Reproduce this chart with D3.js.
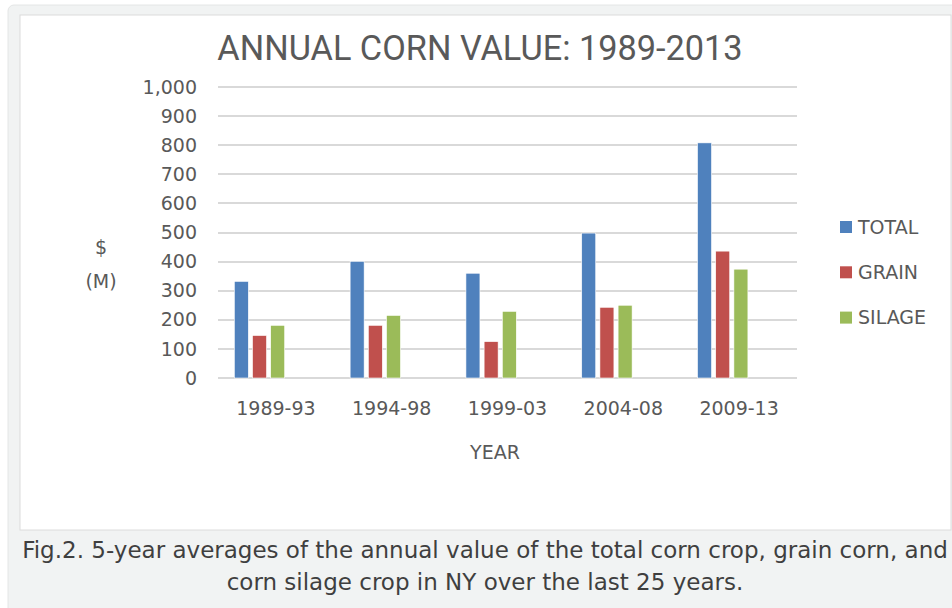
<!DOCTYPE html>
<html>
<head>
<meta charset="utf-8">
<title>Annual corn value 1989-2013</title>
<script src="https://cdn.jsdelivr.net/npm/d3@7"></script>
<style>
body { margin: 0; background: #fff; }
.grid line { stroke: #d9d9d9; stroke-width: 1.5; shape-rendering: crispEdges; }
.tick-label, .cat-label, .legend text, .axis-title {
  font: 19px "DejaVu Sans", sans-serif; fill: #595959;
}
.caption { font: 23px "DejaVu Sans", sans-serif; fill: #3f3f3f; }
</style>
</head>
<body>
<script>
var categories = ["1989-93", "1994-98", "1999-03", "2004-08", "2009-13"];
var seriesNames = ["TOTAL", "GRAIN", "SILAGE"];
var total  = [332, 401, 360, 498, 808];
var grain  = [146, 181, 125, 243, 436];
var silage = [181, 215, 229, 250, 374];
var yTicks = [0, 100, 200, 300, 400, 500, 600, 700, 800, 900, 1000];
var colors = ["#4f81bd", "#c0504d", "#9bbb59"];

var W = 952, H = 608;
var plot = {left: 218, right: 797, top: 87, bottom: 378};

var svg = d3.select("body").append("svg")
    .attr("width", W)
    .attr("height", H);

// page frame: grey box with white chart panel inside
svg.append("rect")
    .attr("x", 8).attr("y", 5)
    .attr("width", 970).attr("height", 640)
    .attr("rx", 6)
    .attr("fill", "#f1f3f3")
    .attr("stroke", "#e4e6e6");
svg.append("rect")
    .attr("x", 20).attr("y", 15)
    .attr("width", 931).attr("height", 515)
    .attr("fill", "#fff")
    .attr("stroke", "#dcdcdc");

var x0 = d3.scaleBand()
    .domain(categories)
    .range([plot.left, plot.right]);

var x1 = d3.scaleBand()
    .domain(seriesNames)
    .range([x0.bandwidth() * 0.141, x0.bandwidth() * 0.576])
    .paddingInner(0.23);

var y = d3.scaleLinear()
    .domain([0, 1000])
    .range([plot.bottom, plot.top]);

var color = d3.scaleOrdinal().domain(seriesNames).range(colors);

// gridlines
svg.append("g")
    .attr("class", "grid")
  .selectAll("line")
    .data(yTicks)
  .enter().append("line")
    .attr("x1", plot.left)
    .attr("x2", plot.right)
    .attr("y1", function(d) { return Math.round(y(d)); })
    .attr("y2", function(d) { return Math.round(y(d)); });

svg.selectAll(".tick-label")
    .data(yTicks)
  .enter().append("text")
    .attr("class", "tick-label")
    .attr("x", 197)
    .attr("y", function(d) { return y(d); })
    .attr("dy", ".35em")
    .style("text-anchor", "end")
    .text(d3.format(","));

// bars
var rows = categories.map(function(c, i) {
  return {cat: c, values: [total[i], grain[i], silage[i]]};
});

var groups = svg.selectAll(".group")
    .data(rows)
  .enter().append("g")
    .attr("class", "group")
    .attr("transform", function(d) { return "translate(" + x0(d.cat) + ",0)"; });

groups.selectAll("rect")
    .data(function(d) {
      return seriesNames.map(function(s, j) { return {key: s, value: d.values[j]}; });
    })
  .enter().append("rect")
    .attr("x", function(d) { return x1(d.key); })
    .attr("width", x1.bandwidth())
    .attr("y", function(d) { return y(d.value); })
    .attr("height", function(d) { return y(0) - y(d.value); })
    .attr("fill", function(d) { return color(d.key); })
    .attr("stroke", "#fff")
    .attr("stroke-width", 0.6);

svg.selectAll(".cat-label")
    .data(categories)
  .enter().append("text")
    .attr("class", "cat-label")
    .attr("x", function(d) { return x0(d) + x0.bandwidth() / 2; })
    .attr("y", 415)
    .style("text-anchor", "middle")
    .text(function(d) { return d; });

// titles
svg.append("text")
    .attr("x", 480)
    .attr("y", 60)
    .style("text-anchor", "middle")
    .style("font", "400 34.3px Roboto, sans-serif")
    .style("fill", "#595959")
    .text("ANNUAL CORN VALUE: 1989-2013");

svg.append("text")
    .attr("class", "axis-title")
    .attr("x", 101).attr("y", 254)
    .style("text-anchor", "middle")
    .text("$");
svg.append("text")
    .attr("class", "axis-title")
    .attr("x", 101).attr("y", 288)
    .style("text-anchor", "middle")
    .text("(M)");
svg.append("text")
    .attr("class", "axis-title")
    .attr("x", 495).attr("y", 459)
    .style("text-anchor", "middle")
    .text("YEAR");

// legend
var legend = svg.selectAll(".legend")
    .data(seriesNames)
  .enter().append("g")
    .attr("class", "legend")
    .attr("transform", function(d, i) { return "translate(840," + (227 + i * 45.3) + ")"; });

legend.append("rect")
    .attr("y", -6)
    .attr("width", 12)
    .attr("height", 12)
    .attr("fill", color);

legend.append("text")
    .attr("x", 18)
    .attr("dy", ".35em")
    .text(function(d) { return d; });

// caption under the panel
var caption = ["Fig.2. 5-year averages of the annual value of the total corn crop, grain corn, and",
               "corn silage crop in NY over the last 25 years."];
svg.selectAll(".caption")
    .data(caption)
  .enter().append("text")
    .attr("class", "caption")
    .attr("x", 485)
    .attr("y", function(d, i) { return 558 + i * 32; })
    .style("text-anchor", "middle")
    .text(function(d) { return d; });
</script>
</body>
</html>
